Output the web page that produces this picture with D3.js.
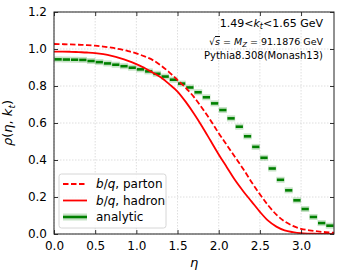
<!DOCTYPE html>
<html>
<head>
<meta charset="utf-8">
<script src="https://cdn.jsdelivr.net/npm/d3@7"></script>
<style>
  body { margin: 0; background: #fff; }
  svg { font-family: "DejaVu Sans", sans-serif; }
</style>
</head>
<body>
<div id="chart"></div>
<script>
// eta grid for the red curves
var etaGrid = [0.0, 0.1, 0.2, 0.3, 0.4, 0.5, 0.6, 0.7, 0.8, 0.9, 1.0, 1.1, 1.2, 1.3, 1.4, 1.5, 1.6,
    1.7, 1.8, 1.9, 2.0, 2.1, 2.2, 2.3, 2.4, 2.5, 2.6, 2.7, 2.8, 2.9, 3.0, 3.1, 3.2, 3.3, 3.4];

// b/q, parton (dashed)
var partonVals = [1.027, 1.026, 1.025, 1.023, 1.021, 1.018, 1.013, 1.007, 0.999, 0.989, 0.976, 0.960,
    0.940, 0.910, 0.874, 0.832, 0.790, 0.740, 0.680, 0.615, 0.545, 0.480, 0.415, 0.350, 0.280, 0.215,
    0.155, 0.105, 0.068, 0.044, 0.028, 0.020, 0.014, 0.010, 0.007];

// b/q, hadron (solid)
var hadronVals = [0.986, 0.986, 0.985, 0.983, 0.981, 0.978, 0.972, 0.963, 0.951, 0.936, 0.918, 0.897,
    0.872, 0.846, 0.810, 0.770, 0.714, 0.650, 0.580, 0.505, 0.430, 0.360, 0.290, 0.230, 0.175, 0.120,
    0.072, 0.040, 0.020, 0.010, 0.004, 0.002, 0.001, 0.000, 0.000];

// analytic, bin centres (bin width 0.1)
var binCenters = [0.05, 0.15, 0.25, 0.35, 0.45, 0.55, 0.65, 0.75, 0.85, 0.95, 1.05, 1.15, 1.25, 1.35,
    1.45, 1.55, 1.65, 1.75, 1.85, 1.95, 2.05, 2.15, 2.25, 2.35, 2.45, 2.55, 2.65, 2.75, 2.85, 2.95,
    3.05, 3.15, 3.25, 3.35];
var analyticVals = [0.944, 0.943, 0.942, 0.941, 0.935, 0.929, 0.922, 0.915, 0.907, 0.899, 0.890, 0.879,
    0.866, 0.851, 0.834, 0.813, 0.792, 0.766, 0.739, 0.706, 0.670, 0.625, 0.580, 0.528, 0.471, 0.412,
    0.354, 0.293, 0.236, 0.182, 0.135, 0.092, 0.059, 0.045];

var xTicks = [0.0, 0.5, 1.0, 1.5, 2.0, 2.5, 3.0];
var yTicks = [0.0, 0.2, 0.4, 0.6, 0.8, 1.0, 1.2];

var margin = { top: 12, right: 18, bottom: 41, left: 54 },
    width = 352 - margin.left - margin.right,
    height = 275 - margin.top - margin.bottom;

var svg = d3.select("#chart")
    .append("svg")
    .attr("width", 352)
    .attr("height", 275)
    .append("g")
    .attr("transform", "translate(" + margin.left + "," + margin.top + ")");

var x = d3.scaleLinear().domain([0, 3.4]).range([0, width]);
var y = d3.scaleLinear().domain([0, 1.2]).range([height, 0]);

// grid
svg.selectAll(".gx").data(xTicks).enter().append("line")
    .attr("x1", function (d) { return x(d); }).attr("x2", function (d) { return x(d); })
    .attr("y1", 0).attr("y2", height)
    .style("stroke", "#d6d6d6").style("stroke-width", 0.8).style("stroke-dasharray", "1.5,1.5");
svg.selectAll(".gy").data(yTicks).enter().append("line")
    .attr("x1", 0).attr("x2", width)
    .attr("y1", function (d) { return y(d); }).attr("y2", function (d) { return y(d); })
    .style("stroke", "#d6d6d6").style("stroke-width", 0.8).style("stroke-dasharray", "1.5,1.5");

svg.append("clipPath").attr("id", "clip")
    .append("rect").attr("width", width).attr("height", height);
var plot = svg.append("g").attr("clip-path", "url(#clip)");

// analytic: short steps with a light band
var halfBin = 0.044;
plot.selectAll(".band").data(binCenters).enter().append("rect")
    .attr("x", function (d) { return x(d - halfBin) - 0.5; })
    .attr("width", function (d) { return x(d + halfBin) - x(d - halfBin) + 1; })
    .attr("y", function (d, i) { return y(analyticVals[i]) - 3; })
    .attr("height", 6)
    .style("fill", "rgba(0,128,0,0.22)");
plot.selectAll(".step").data(binCenters).enter().append("line")
    .attr("x1", function (d) { return x(d - halfBin); })
    .attr("x2", function (d) { return x(d + halfBin); })
    .attr("y1", function (d, i) { return y(analyticVals[i]); })
    .attr("y2", function (d, i) { return y(analyticVals[i]); })
    .style("stroke", "#008000").style("stroke-width", 2.6);

var line = d3.line().curve(d3.curveMonotoneX)
    .x(function (d) { return x(d[0]); })
    .y(function (d) { return y(d[1]); });

plot.append("path")
    .datum(etaGrid.map(function (e, i) { return [e, partonVals[i]]; }))
    .attr("d", line)
    .style("fill", "none").style("stroke", "#ff0000").style("stroke-width", 1.8)
    .style("stroke-dasharray", "5.5,2.5");

plot.append("path")
    .datum(etaGrid.map(function (e, i) { return [e, hadronVals[i]]; }))
    .attr("d", line)
    .style("fill", "none").style("stroke", "#ff0000").style("stroke-width", 1.8);

// axes, ticks inward on all sides
var fmt = d3.format(".1f");
function styleAxis(g) {
    g.select(".domain").remove();
    g.selectAll(".tick line").style("stroke", "#000").style("stroke-width", 0.8);
    g.selectAll("text").style("font-size", "12px").style("fill", "#000")
        .style("font-family", "DejaVu Sans, sans-serif");
}
svg.append("g").attr("transform", "translate(0," + height + ")")
    .call(d3.axisBottom(x).tickValues(xTicks).tickFormat(fmt).tickSizeInner(-4).tickPadding(7))
    .call(styleAxis);
svg.append("g")
    .call(d3.axisLeft(y).tickValues(yTicks).tickFormat(fmt).tickSizeInner(-4).tickPadding(7))
    .call(styleAxis);
svg.append("g")
    .call(d3.axisTop(x).tickValues(xTicks).tickFormat("").tickSizeInner(-4))
    .call(styleAxis);
svg.append("g").attr("transform", "translate(" + width + ",0)")
    .call(d3.axisRight(y).tickValues(yTicks).tickFormat("").tickSizeInner(-4))
    .call(styleAxis);

svg.append("rect").attr("width", width).attr("height", height)
    .style("fill", "none").style("stroke", "#222").style("stroke-width", 1);

// axis labels
svg.append("text")
    .attr("x", width / 2).attr("y", height + 33)
    .style("text-anchor", "middle").style("font-size", "13px").style("font-style", "italic")
    .text("η");

var yl = svg.append("text")
    .attr("transform", "translate(" + (-42) + "," + (height / 2) + ") rotate(-90)")
    .style("text-anchor", "middle").style("font-size", "13px");
yl.append("tspan").style("font-style", "italic").text("ρ");
yl.append("tspan").text("(");
yl.append("tspan").style("font-style", "italic").text("η");
yl.append("tspan").text(", ");
yl.append("tspan").style("font-style", "italic").text("k");
yl.append("tspan").style("font-style", "italic").style("font-size", "9px").attr("dy", 3).text("t");
yl.append("tspan").attr("dy", -3).text(")");

// annotations
var t1 = svg.append("text").attr("x", width - 11).attr("y", 15)
    .style("text-anchor", "end").style("font-size", "11px");
t1.append("tspan").text("1.49<");
t1.append("tspan").style("font-style", "italic").text("k");
t1.append("tspan").style("font-style", "italic").style("font-size", "8px").attr("dy", 2).text("t");
t1.append("tspan").attr("dy", -2).text("<1.65 GeV");

var t2 = svg.append("text").attr("x", width - 11).attr("y", 33)
    .style("text-anchor", "end").style("font-size", "9.5px");
t2.append("tspan").text("√");
t2.append("tspan").style("font-style", "italic").style("text-decoration", "overline").text("s");
t2.append("tspan").text(" = ");
t2.append("tspan").style("font-style", "italic").text("M");
t2.append("tspan").style("font-style", "italic").style("font-size", "7px").attr("dy", 2).text("Z");
t2.append("tspan").attr("dy", -2).text(" = 91.1876 GeV");

svg.append("text").attr("x", width - 11).attr("y", 47)
    .style("text-anchor", "end").style("font-size", "10px")
    .text("Pythia8.308(Monash13)");

// legend
var lg = svg.append("g").attr("transform", "translate(5,162)");
lg.append("rect").attr("width", 107).attr("height", 54).attr("rx", 2.5)
    .style("fill", "rgba(255,255,255,0.8)").style("stroke", "#ccc").style("stroke-width", 0.8);
var items = [
    { label: "parton", dash: "5.5,2.5" },
    { label: "hadron", dash: null },
    { label: "analytic", dash: null }
];
items.forEach(function (it, i) {
    var yy = 10 + i * 16.5;
    if (i == 2) {
        lg.append("rect").attr("x", 4).attr("y", yy - 3.5).attr("width", 24).attr("height", 7)
            .style("fill", "rgba(0,128,0,0.22)");
        lg.append("line").attr("x1", 4).attr("x2", 28).attr("y1", yy).attr("y2", yy)
            .style("stroke", "#008000").style("stroke-width", 2.6);
    } else {
        lg.append("line").attr("x1", 4).attr("x2", 28).attr("y1", yy).attr("y2", yy)
            .style("stroke", "#ff0000").style("stroke-width", 1.8)
            .style("stroke-dasharray", it.dash);
    }
    var tx = lg.append("text").attr("x", 37).attr("y", yy + 4.3).style("font-size", "12px");
    if (i < 2) {
        tx.append("tspan").style("font-style", "italic").text("b");
        tx.append("tspan").text("/");
        tx.append("tspan").style("font-style", "italic").text("q");
        tx.append("tspan").text(", " + it.label);
    } else {
        tx.text(it.label);
    }
});
</script>
</body>
</html>
